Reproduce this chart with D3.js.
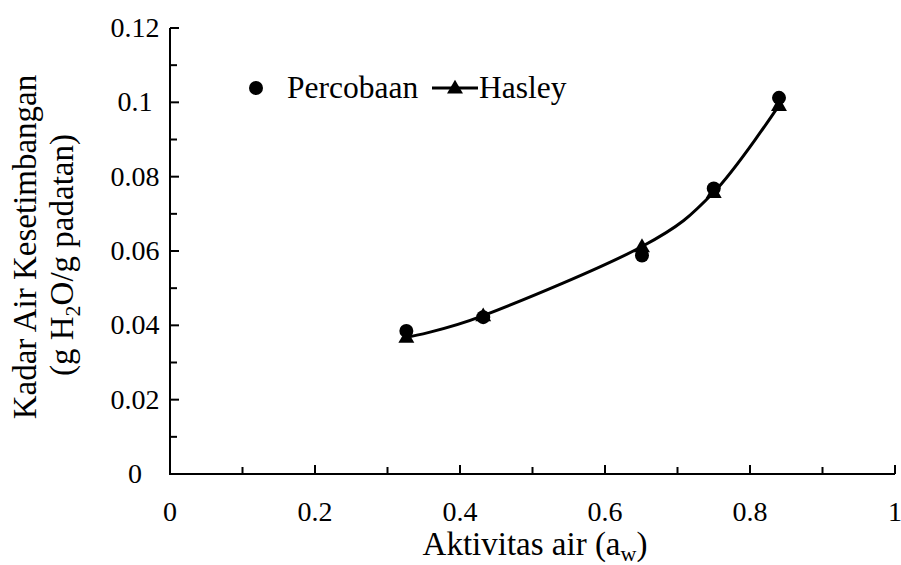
<!DOCTYPE html>
<html>
<head>
<meta charset="utf-8">
<script src="https://cdn.jsdelivr.net/npm/d3@7"></script>
<style>
  body { margin: 0; background: #fff; }
  text { font-family: "Liberation Serif", "Times New Roman", serif; fill: #000; }
</style>
</head>
<body>
<div id="chart"></div>
<script>
// nilai
const aw = [0.326, 0.432, 0.651, 0.750, 0.840];
const percobaan = [0.0385, 0.0422, 0.0588, 0.0768, 0.1012];
const hasley = [0.0368, 0.0426, 0.0612, 0.0758, 0.0992];
const xTicks = [0, 0.2, 0.4, 0.6, 0.8, 1];
const yTicks = [0, 0.02, 0.04, 0.06, 0.08, 0.1, 0.12];

const width = 901, height = 565;
const x = d3.scaleLinear().domain([0, 1]).range([170, 895]);
const y = d3.scaleLinear().domain([0, 0.12]).range([474, 28]);

const svg = d3.select("#chart").append("svg")
  .attr("width", width)
  .attr("height", height);

// sumbu
const axes = svg.append("g").attr("stroke", "#000").attr("stroke-width", 2);
axes.append("line").attr("x1", x(0) - 1).attr("x2", x(1)).attr("y1", y(0)).attr("y2", y(0));
axes.append("line").attr("x1", x(0)).attr("x2", x(0)).attr("y1", y(0)).attr("y2", y(0.12));

// minor ticks x setiap 0.1, major setiap 0.2
axes.selectAll(".xt")
  .data(d3.range(1, 11).map(i => i / 10))
  .join("line")
  .attr("x1", d => x(d)).attr("x2", d => x(d))
  .attr("y1", y(0))
  .attr("y2", (d, i) => y(0) - (i % 2 === 1 ? 9 : 7));

axes.selectAll(".yt")
  .data(d3.range(1, 13).map(i => i / 100))
  .join("line")
  .attr("y1", d => y(d)).attr("y2", d => y(d))
  .attr("x1", x(0))
  .attr("x2", (d, i) => x(0) + (i % 2 === 1 ? 9 : 7));

svg.append("g").selectAll("text")
  .data(xTicks)
  .join("text")
  .attr("x", d => x(d))
  .attr("y", 521)
  .attr("text-anchor", "middle")
  .attr("font-size", 28)
  .text(d => d);

svg.append("g").selectAll("text")
  .data(yTicks)
  .join("text")
  .attr("x", 135)
  .attr("y", d => y(d) + 9)
  .attr("text-anchor", "middle")
  .attr("font-size", 28)
  .text(d => d);

// judul sumbu
const xt = svg.append("text")
  .attr("x", 535)
  .attr("y", 555)
  .attr("text-anchor", "middle")
  .attr("font-size", 33);
xt.append("tspan").text("Aktivitas air (a");
xt.append("tspan").attr("font-size", 22).attr("dy", 6).text("w");
xt.append("tspan").attr("dy", -6).text(")");

const yt = svg.append("g").attr("transform", "translate(0,250) rotate(-90)");
yt.append("text")
  .attr("x", 3).attr("y", 36)
  .attr("text-anchor", "middle")
  .attr("font-size", 33)
  .text("Kadar Air Kesetimbangan");
const yt2 = yt.append("text")
  .attr("x", -5).attr("y", 73)
  .attr("text-anchor", "middle")
  .attr("font-size", 33);
yt2.append("tspan").text("(g H");
yt2.append("tspan").attr("font-size", 22).attr("dy", 7).text("2");
yt2.append("tspan").attr("dy", -7).text("O/g padatan)");

// garis Hasley
const line = d3.line()
  .x((d, i) => x(aw[i]))
  .y(d => y(d))
  .curve(d3.curveCardinal.tension(0));

svg.append("path")
  .datum(hasley)
  .attr("d", line)
  .attr("fill", "none")
  .attr("stroke", "#000")
  .attr("stroke-width", 3);

const tri = d3.symbol().type(d3.symbolTriangle).size(110);

svg.append("g").selectAll("circle")
  .data(percobaan)
  .join("circle")
  .attr("cx", (d, i) => x(aw[i]))
  .attr("cy", d => y(d))
  .attr("r", 7)
  .attr("fill", "#000");

svg.append("g").selectAll("path")
  .data(hasley)
  .join("path")
  .attr("d", tri)
  .attr("transform", (d, i) => `translate(${x(aw[i])},${y(d) + 1})`)
  .attr("fill", "#000");

// legenda
const lg = svg.append("g");
lg.append("circle").attr("cx", 256).attr("cy", 88).attr("r", 7).attr("fill", "#000");
lg.append("text").attr("x", 287).attr("y", 98).attr("font-size", 31.5).text("Percobaan");
lg.append("line").attr("x1", 432).attr("x2", 478).attr("y1", 88).attr("y2", 88)
  .attr("stroke", "#000").attr("stroke-width", 3);
lg.append("path").attr("d", tri).attr("transform", "translate(455,89)").attr("fill", "#000");
lg.append("text").attr("x", 479).attr("y", 98).attr("font-size", 31.5).text("Hasley");
</script>
</body>
</html>
